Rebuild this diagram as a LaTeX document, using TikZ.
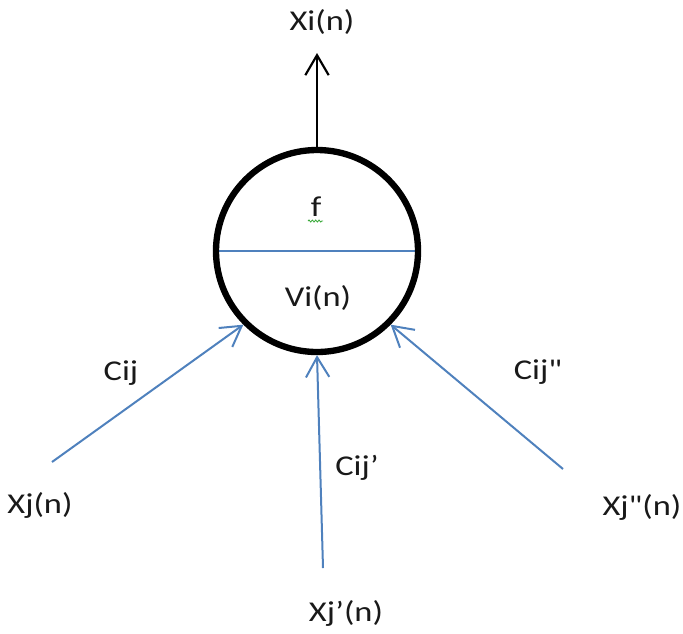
\documentclass[tikz,border=0pt]{standalone}
\usepackage{fontspec}
\newfontfamily\calib{Carlito}[FakeStretch=1.2]
\usepackage{tikz}
\usetikzlibrary{arrows.meta, positioning, backgrounds, decorations.pathmorphing}
\definecolor{officeblue}{RGB}{79,129,189}
\definecolor{spellgreen}{RGB}{60,170,60}

\begin{document}
\begin{tikzpicture}[
  x=0.03cm, y=-0.03cm,
  neuron/.style={circle, draw=black, line width=1.9mm, inner sep=0pt,
                 minimum size=6.06cm},
  divider/.style={draw=officeblue, line width=0.6mm},
  label/.style={font=\calib\fontsize{24.5}{28}\selectfont, inner sep=0pt, text=black!90},
  inarrow/.style={-{Straight Barb[length=6mm, width=7mm]}, line width=0.6mm,
                  draw=officeblue},
  outarrow/.style={-{Straight Barb[length=6mm, width=7mm]}, line width=0.65mm,
                   draw=black},
  squiggle/.style={draw=spellgreen, line width=0.25mm,
                   decorate, decoration={snake, amplitude=0.3mm, segment length=1mm}},
]
  \useasboundingbox (0,0) rectangle (683,633);

  \node[neuron] (cell) at (317,251) {};
  \begin{scope}[on background layer]
    \draw[divider] (cell.west) -- (cell.east);
  \end{scope}

  \node[label] (f)  at (316,207) {f};
  \node[label] (vi) at (318,298) {Vi(n)};
  \draw[squiggle] (308,221) -- (323,221);

  % output
  \coordinate (top) at (317,53);
  \node[label] (xi) at (322,22) {Xi(n)};
  \draw[outarrow] (cell.north) -- (top);

  % inputs
  \coordinate (in1) at (52,462);
  \coordinate (in2) at (323,568);
  \coordinate (in3) at (563,469);
  \draw[inarrow] (in1) -- (cell.225);
  \draw[inarrow] (in2) -- (cell.270);
  \draw[inarrow] (in3) -- (cell.315);

  \node[label] (cij)  at (121,373) {Cij};
  \node[label] (cij1) at (357,468) {Cij’};
  \node[label] (cij2) at (538,372) {Cij"};
  \node[label] (xj)   at (40,505)  {Xj(n)};
  \node[label] (xj1)  at (346,613) {Xj’(n)};
  \node[label] (xj2)  at (642,507) {Xj"(n)};
\end{tikzpicture}
\end{document}
